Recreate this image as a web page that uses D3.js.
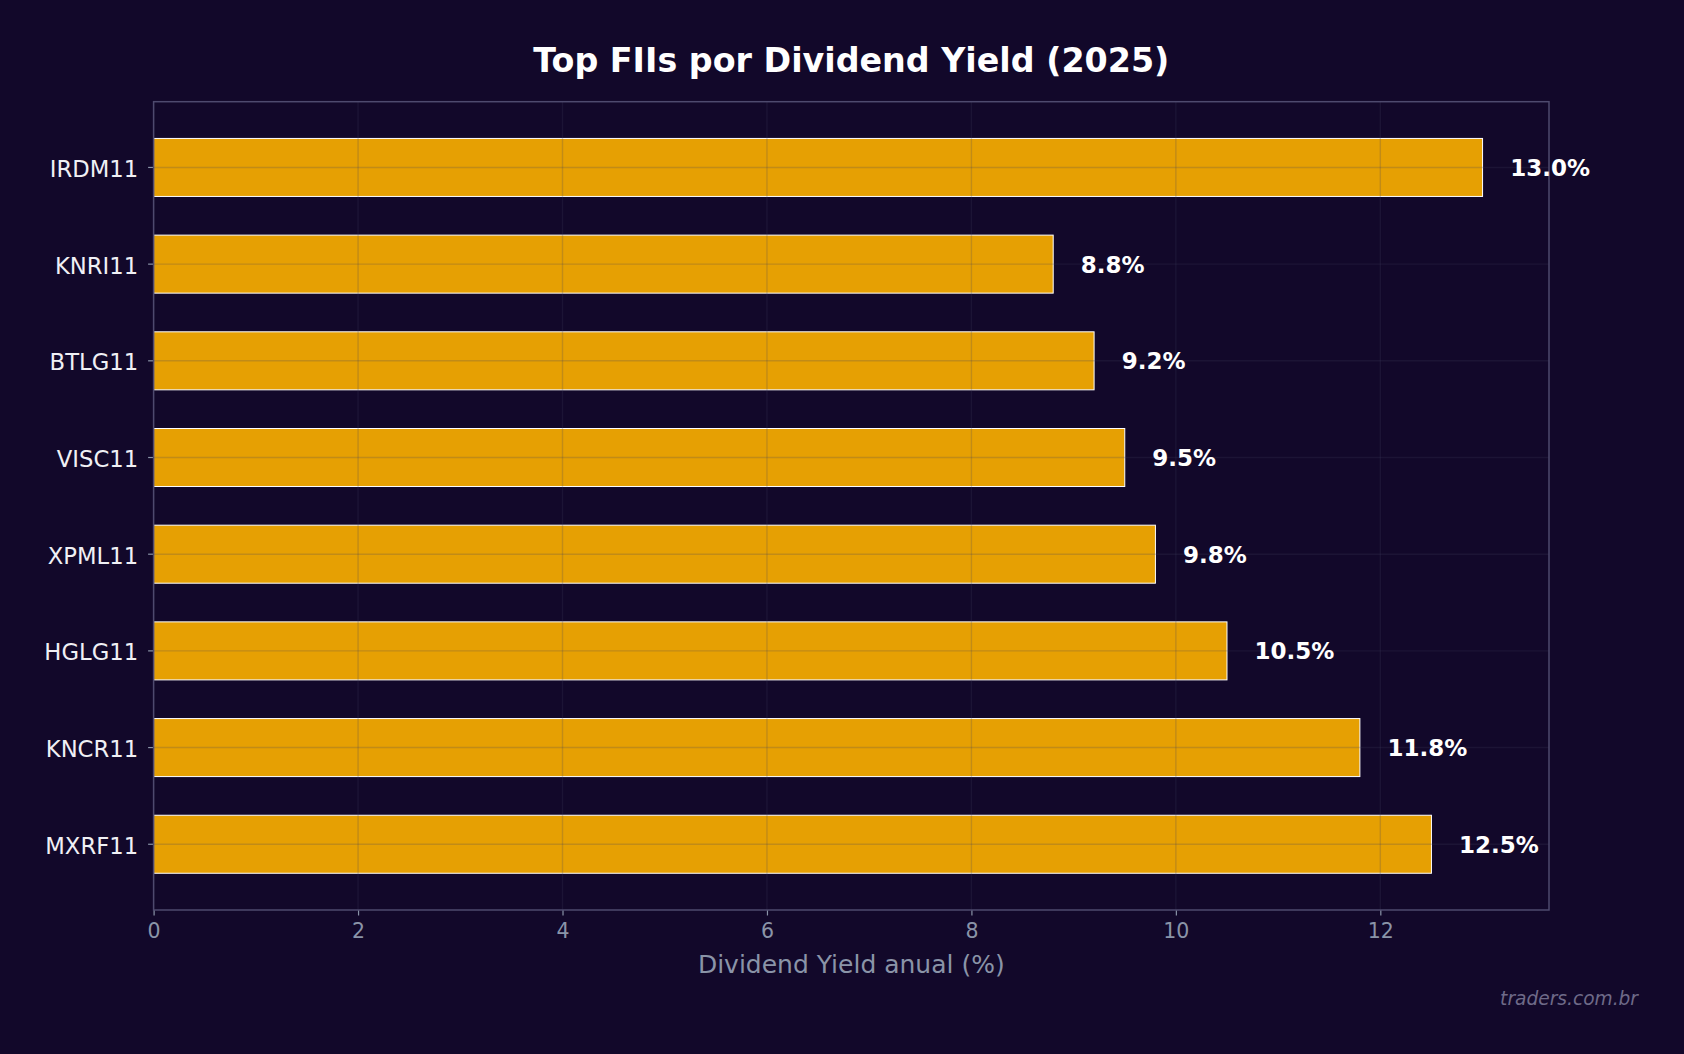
<!DOCTYPE html>
<html>
<head>
<meta charset="utf-8">
<script src="https://cdn.jsdelivr.net/npm/d3@7"></script>
<style>
  html, body { margin: 0; padding: 0; background: #12082a; }
  svg { display: block; }
</style>
</head>
<body>
<svg id="chart" width="1684" height="1054"></svg>
<script>
// Data
const categories = ["IRDM11", "KNRI11", "BTLG11", "VISC11", "XPML11", "HGLG11", "KNCR11", "MXRF11"];
const yields = [13.0, 8.8, 9.2, 9.5, 9.8, 10.5, 11.8, 12.5];
const xTicks = [0, 2, 4, 6, 8, 10, 12];
const titleText = "Top FIIs por Dividend Yield (2025)";
const xLabelText = "Dividend Yield anual (%)";
const watermark = "traders.com.br";

(function () {
const W = 1684, H = 1054;
const pLeft = 153.6, pRight = 1549, pTop = 101.7, pBottom = 910;
const font = "'DejaVu Sans', 'Liberation Sans', sans-serif";

const svg = d3.select("#chart");
svg.append("rect").attr("width", W).attr("height", H).attr("fill", "#12082a");

const x = d3.scaleLinear().domain([0, d3.max(yields) * 1.05]).range([pLeft, pRight]);
const y = d3.scaleBand().domain(categories).range([pTop, pBottom]).paddingInner(0.4).paddingOuter(0.38);

const data = categories.map((c, i) => ({ cat: c, v: yields[i] }));

// Bars
svg.append("g").selectAll("rect").data(data).join("rect")
  .attr("x", x(0))
  .attr("y", d => y(d.cat))
  .attr("width", d => x(d.v) - x(0))
  .attr("height", y.bandwidth())
  .attr("fill", "#e6a003")
  .attr("stroke", "#ffffff")
  .attr("stroke-width", 1);

// Grid (drawn over bars)
const grid = svg.append("g");
grid.selectAll("line.v").data(xTicks).join("line")
  .attr("class", "v")
  .attr("x1", d => x(d)).attr("x2", d => x(d))
  .attr("y1", pTop).attr("y2", pBottom)
  .attr("stroke", "#404060").attr("stroke-opacity", 0.22).attr("stroke-width", 1.4);
grid.selectAll("line.h").data(categories).join("line")
  .attr("class", "h")
  .attr("x1", pLeft).attr("x2", pRight)
  .attr("y1", d => y(d) + y.bandwidth() / 2).attr("y2", d => y(d) + y.bandwidth() / 2)
  .attr("stroke", "#404060").attr("stroke-opacity", 0.22).attr("stroke-width", 1.4);

// Axes
const xAxis = d3.axisBottom(x).tickValues(xTicks).tickFormat(d3.format("d")).tickSize(5.5).tickPadding(8);
const gx = svg.append("g").attr("transform", `translate(0,${pBottom})`).call(xAxis);
gx.select(".domain").remove();
gx.selectAll(".tick line").attr("stroke", "#8a94a8").attr("stroke-width", 1.2);
gx.selectAll(".tick text").attr("fill", "#8a94a8").attr("font-family", font).attr("font-size", 20.5);

const yAxis = d3.axisLeft(y).tickSize(5.5).tickPadding(10);
const gy = svg.append("g").attr("transform", `translate(${pLeft},0)`).call(yAxis);
gy.select(".domain").remove();
gy.selectAll(".tick line").attr("stroke", "#8a94a8").attr("stroke-width", 1.2);
gy.selectAll(".tick text").attr("fill", "#f0f0f5").attr("font-family", font).attr("font-size", 22.7).attr("dy", "0.42em");

// Spines
svg.append("rect")
  .attr("x", pLeft).attr("y", pTop)
  .attr("width", pRight - pLeft).attr("height", pBottom - pTop)
  .attr("fill", "none").attr("stroke", "#4e4a6e").attr("stroke-width", 1.5);

// Value labels
svg.append("g").selectAll("text").data(data).join("text")
  .attr("x", d => x(d.v + 0.27))
  .attr("y", d => y(d.cat) + y.bandwidth() / 2)
  .attr("dy", "0.37em")
  .attr("fill", "#ffffff")
  .attr("font-family", font).attr("font-weight", "bold").attr("font-size", 23)
  .text(d => d.v.toFixed(1) + "%");

// Title
svg.append("text")
  .attr("x", (pLeft + pRight) / 2).attr("y", 71.7)
  .attr("text-anchor", "middle")
  .attr("fill", "#ffffff")
  .attr("font-family", font).attr("font-weight", "bold").attr("font-size", 33.3)
  .text(titleText);

// X label
svg.append("text")
  .attr("x", (pLeft + pRight) / 2).attr("y", 972.7)
  .attr("text-anchor", "middle")
  .attr("fill", "#8a94a8")
  .attr("font-family", font).attr("font-size", 25)
  .text(xLabelText);

// Watermark
svg.append("text")
  .attr("x", 1638).attr("y", 1005)
  .attr("text-anchor", "end")
  .attr("fill", "#6e6a88")
  .attr("font-family", font).attr("font-style", "italic").attr("font-size", 18.6)
  .text(watermark);
})();
</script>
</body>
</html>
